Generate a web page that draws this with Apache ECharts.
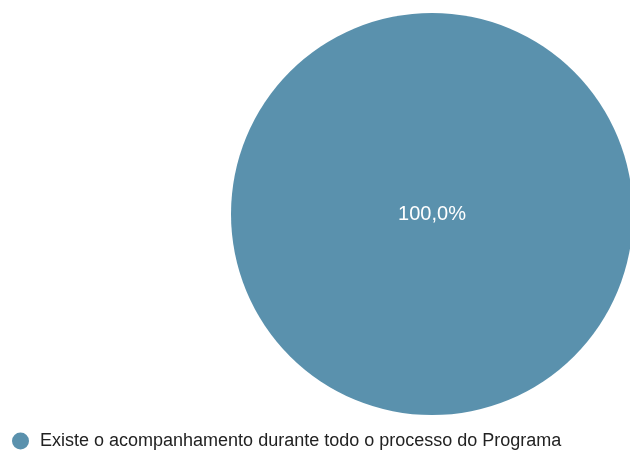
<!DOCTYPE html>
<html>
<head>
<meta charset="utf-8">
<script src="https://cdn.jsdelivr.net/npm/echarts@6/dist/echarts.min.js"></script>
<style>
html,body{margin:0;padding:0;background:#fff;}
#chart{width:630px;height:450px;}
</style>
</head>
<body>
<div id="chart"></div>
<script>
// Single-answer survey result
const categories = ['Existe o acompanhamento durante todo o processo do Programa'];
const values = [100];
const colors = ['#5a91ad'];

const total = values.reduce((a, b) => a + b, 0);
const chart = echarts.init(document.getElementById('chart'), null, {renderer: 'canvas'});

chart.setOption({
  animation: false,
  color: colors,
  legend: {
    left: 7,
    top: 427,
    icon: 'circle',
    itemWidth: 17,
    itemHeight: 17,
    itemGap: 10,
    textStyle: {
      fontFamily: 'Liberation Sans, Arial, sans-serif',
      fontSize: 18,
      color: '#222',
      padding: [0, 0, 0, 6]
    },
    data: categories
  },
  series: [{
    type: 'pie',
    center: [432, 214],
    radius: [0, 201],
    startAngle: 90,
    silent: true,
    label: {
      position: 'center',
      color: '#fff',
      fontFamily: 'Liberation Sans, Arial, sans-serif',
      fontSize: 20,
      formatter: p => (p.value / total * 100).toFixed(1).replace('.', ',') + '%'
    },
    labelLine: {show: false},
    itemStyle: {borderWidth: 0},
    data: categories.map((c, i) => ({name: c, value: values[i]}))
  }]
});
</script>
</body>
</html>
